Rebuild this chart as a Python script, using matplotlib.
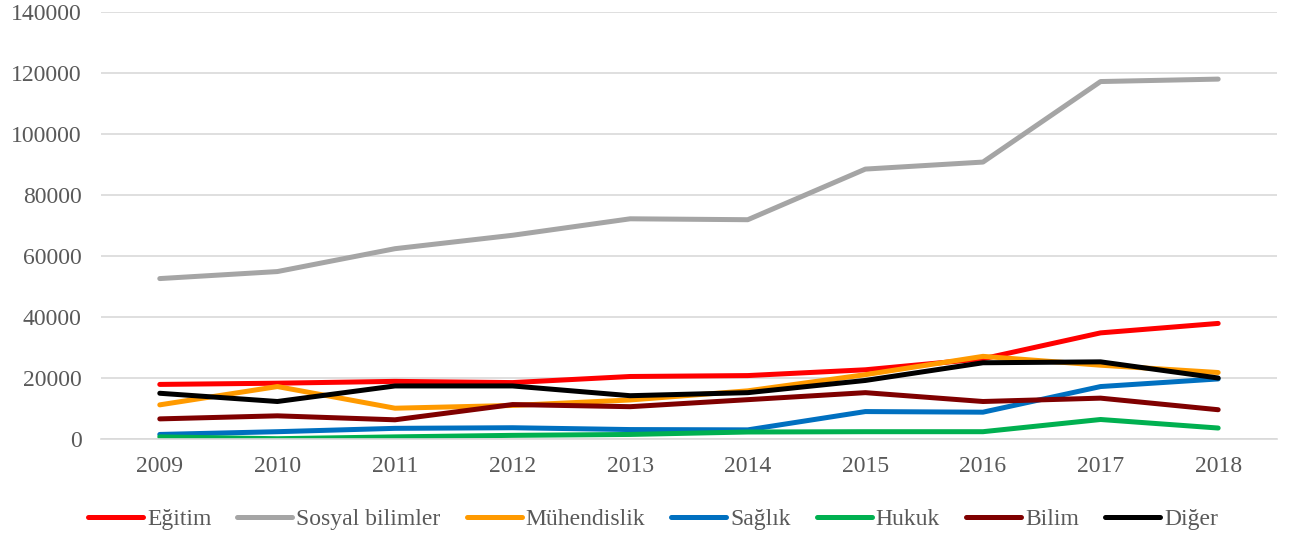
import matplotlib.pyplot as plt

# yillar ve seriler
yillar = ["2009", "2010", "2011", "2012", "2013", "2014", "2015", "2016", "2017", "2018"]

egitim = [17900, 18300, 18900, 18500, 20500, 20800, 22700, 26300, 34800, 37900]
sosyal_bilimler = [52600, 54900, 62400, 66800, 72200, 71900, 88500, 90800, 117200, 118000]
muhendislik = [11200, 17200, 10100, 11000, 12800, 15800, 21100, 27100, 24200, 21800]
saglik = [1500, 2400, 3500, 3700, 3100, 3000, 9000, 8800, 17200, 19700]
hukuk = [700, 100, 700, 1200, 1500, 2300, 2400, 2400, 6400, 3600]
bilim = [6600, 7600, 6300, 11300, 10600, 12900, 15200, 12300, 13400, 9600]
diger = [15000, 12300, 17400, 17400, 14200, 15200, 19200, 25000, 25300, 20000]

seriler = [
    ("Eğitim", egitim, "#FF0000"),
    ("Sosyal bilimler", sosyal_bilimler, "#A5A5A5"),
    ("Mühendislik", muhendislik, "#FF9A00"),
    ("Sağlık", saglik, "#0070C0"),
    ("Hukuk", hukuk, "#00B050"),
    ("Bilim", bilim, "#7F0000"),
    ("Diğer", diger, "#000000"),
]

plt.rcParams["font.family"] = ["Liberation Serif", "DejaVu Serif"]

fig = plt.figure(figsize=(12.93, 5.43), dpi=100)
ax = fig.add_axes([0.0781, 0.1915, 0.9095, 0.7864])

x = list(range(len(yillar)))
for ad, degerler, renk in seriler:
    ax.plot(x, degerler, color=renk, linewidth=3.6, label=ad,
            solid_capstyle="round", solid_joinstyle="round")

ax.set_xlim(-0.5, len(yillar) - 0.5)
ax.set_ylim(0, 140000)
ax.set_yticks(range(0, 140001, 20000))
ax.set_xticks(x)
ax.set_xticklabels(yillar)

ax.grid(axis="y", color="#D9D9D9", linewidth=1.2)
ax.set_axisbelow(True)
for s in ["top", "right", "left"]:
    ax.spines[s].set_visible(False)
ax.spines["bottom"].set_color("#D9D9D9")
ax.spines["bottom"].set_linewidth(1.2)

ax.tick_params(axis="both", length=0, labelsize=17, labelcolor="#595959")
ax.tick_params(axis="y", pad=14)
ax.tick_params(axis="x", pad=12)

leg = fig.legend(loc="center", bbox_to_anchor=(0.505, 0.043), ncol=7, frameon=False,
                 fontsize=17, handlelength=2.33, columnspacing=1.1, handletextpad=0.17)
for t in leg.get_texts():
    t.set_color("#595959")

fig.savefig("out.png", dpi=100)
